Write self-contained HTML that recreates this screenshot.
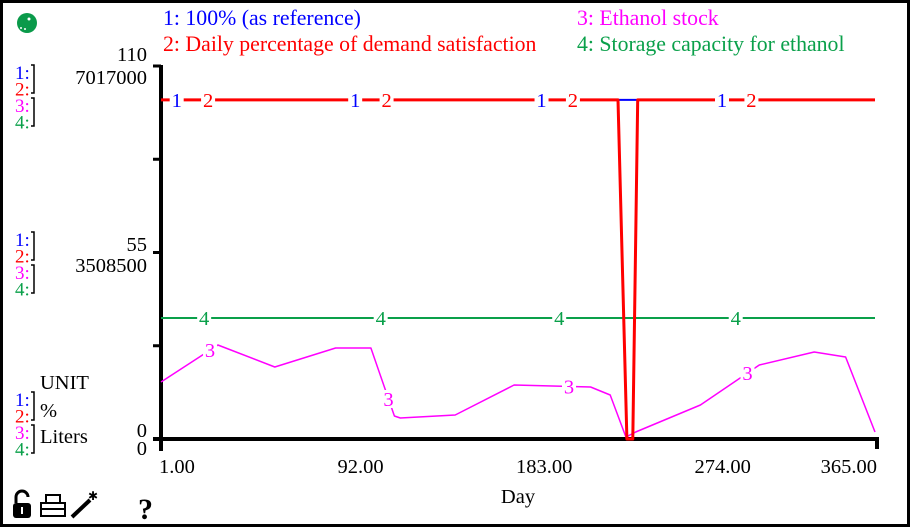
<!DOCTYPE html>
<html><head><meta charset="utf-8"><style>
body{margin:0;background:#fff;}
#wrap{position:relative;width:910px;height:527px;overflow:hidden;font-family:"Liberation Serif",serif;}
svg text{font-family:"Liberation Serif",serif;}
</style></head><body>
<div id="wrap">
<svg id="chart" width="910" height="527" xmlns="http://www.w3.org/2000/svg">
<rect x="1.5" y="1.5" width="907" height="524" fill="#fff" stroke="#000" stroke-width="3"/>
<g><circle cx="27" cy="23" r="10" fill="#0a9a4a"/><circle cx="29" cy="19" r="1.5" fill="#fff"/><circle cx="21" cy="28" r="1" fill="#fff"/><circle cx="25" cy="29" r="1" fill="#fff"/></g>
<text x="163" y="25" font-size="21.8" fill="#0000ff">1: 100% (as reference)</text>
<text x="163" y="51" font-size="21.8" fill="#ff0000">2: Daily percentage of demand satisfaction</text>
<text x="577" y="25" font-size="21.8" fill="#ff00ff">3: Ethanol stock</text>
<text x="577" y="51" font-size="21.8" fill="#0aa04a">4: Storage capacity for ethanol</text>
<g id="axes"></g>
<g id="series"></g>
<g>
<g><path d="M16 503 v-6 a6 6 0 0 1 12 0" fill="none" stroke="#000" stroke-width="3"/><rect x="13" y="503" width="18" height="15" rx="3" fill="#000"/><rect x="21" y="507" width="2" height="7" fill="#fff"/></g>
<g stroke="#000" stroke-width="2" fill="none"><rect x="41" y="503" width="24" height="13"/><rect x="46" y="495" width="14" height="8"/><line x1="41" y1="509" x2="65" y2="509"/></g>
<g><line x1="72" y1="517" x2="90" y2="500" stroke="#000" stroke-width="4"/><text x="88" y="500" font-size="12">✱</text></g>
<text x="138" y="519" font-size="30" font-weight="bold" font-family="Liberation Sans">?</text>
</g>
</svg>
</div>
<script>
const days3 = [1,30,59,90,108,120,123,151,181,220,230,238,243,276,306,334,350,365];
const stock = [1072000,1768000,1354000,1712000,1712000,433000,395000,451000,1016000,978000,828000,38000,132000,640000,1392000,1637000,1543000,132000];
const days2 = [1,234,238.5,241.5,244,365];
const demand = [100,100,0,0,100,100];
const days1 = [1,365];
const reference = [100,100];
const days4 = [1,365];
const capacity = [2276000,2276000];
const xTicks = [1,92,183,274,365];
const xTickLabels = ["1.00","92.00","183.00","274.00","365.00"];
const pctMax = 110, litMax = 7017000;

const X0=161,X1=875,Y0=439,Y1=66;
const xs = d => X0 + (d-1)/(365-1)*(X1-X0);
const yP = v => Y0 - v/pctMax*(Y0-Y1);
const yL = v => Y0 - v/litMax*(Y0-Y1);
const NS="http://www.w3.org/2000/svg";
function mk(tag,attrs,parent,txt){const e=document.createElementNS(NS,tag);for(const k in attrs)e.setAttribute(k,attrs[k]);if(txt!==undefined)e.textContent=txt;parent.appendChild(e);return e;}
const ax=document.getElementById('axes'), se=document.getElementById('series');
const FS=20.5;

let e=mk('line',{x1:X0,y1:Y1-1,x2:X0,y2:Y0+12,stroke:'#000','stroke-width':4},ax);


e=mk('line',{x1:X0-8,y1:Y0,x2:X1+4,y2:Y0,stroke:'#000','stroke-width':4},ax);


mk('line',{x1:X1+2,y1:Y0,x2:X1+2,y2:Y0+10,stroke:'#000','stroke-width':4},ax);
[0.25,0.5,0.75,1].forEach(f=>{const y=Y0-f*(Y0-Y1);mk('line',{x1:X0-8,y1:y,x2:X0,y2:y,stroke:'#000','stroke-width':3},ax);});
function lab(x,y,t,name,anchor){const el=mk('text',{x:x,y:y,'font-size':FS,'text-anchor':anchor||'end'},ax,t);

}
lab(147,61,"110",'y-tick-pct-max');lab(147,84,"7017000",'y-tick-liters-max');
lab(147,251,"55",'y-tick-pct-mid');lab(147,272,"3508500",'y-tick-liters-mid');
lab(147,437,"0",'y-tick-pct-zero');lab(147,455,"0",'y-tick-liters-zero');
xTicks.forEach((d,i)=>{const x=xs(d);const last=i===xTicks.length-1;const el=mk('text',{x:last?X1+2:x-2,y:473,'font-size':FS,'text-anchor':last?'end':'start'},ax,xTickLabels[i]);

});
e=mk('text',{x:518,y:503,'font-size':FS,'text-anchor':'middle'},ax,"Day");



const cols=['#0000ff','#ff0000','#ff00ff','#0aa04a'];
function key(y0,name){const g=mk('g',{},ax);
for(let i=0;i<4;i++){mk('text',{x:15,y:y0+i*16.5,'font-size':19,fill:cols[i]},g,(i+1)+":");}
mk('path',{d:`M31 ${y0-14}h3v28h-3 M31 ${y0+19}h3v28h-3`,stroke:'#000','stroke-width':1.5,fill:'none'},g);}
key(79,'scale-key-top');key(246,'scale-key-mid');key(406,'scale-key-units');
lab(40,389,"UNIT",'units-header','start');lab(40,417,"%",'unit-pct','start');lab(40,443,"Liters",'unit-liters','start');

function line(ds,vs,yf,color,w,name){const pts=ds.map((d,i)=>xs(d).toFixed(1)+','+yf(vs[i]).toFixed(1)).join(' ');
const p=mk('polyline',{points:pts,fill:'none',stroke:color,'stroke-width':w,'stroke-linejoin':'round'},se);

}
function interp(ds,vs,d){for(let i=0;i<ds.length-1;i++){if(d>=ds[i]&&d<=ds[i+1]){const t=(d-ds[i])/(ds[i+1]-ds[i]);return vs[i]+t*(vs[i+1]-vs[i]);}}return vs[vs.length-1];}
function marker(d,ds,vs,yf,color,t,name){const x=xs(d),y=yf(interp(ds,vs,d));
mk('rect',{x:x-7,y:y-9,width:14,height:18,fill:'#fff'},se);
const el=mk('text',{x:x,y:y+7,'font-size':FS,fill:color,'text-anchor':'middle'},se,t);

}

line(days4,capacity,yL,'#0aa04a',2,'series-4-storage-capacity');
line(days3,stock,yL,'#ff00ff',1.5,'series-3-ethanol-stock');
line(days1,reference,yP,'#0000ff',2,'series-1-reference');
line(days2,demand,yP,'#ff0000',3,'series-2-demand-satisfaction');
[23,113,204,294].forEach(d=>marker(d,days4,capacity,yL,'#0aa04a','4','series-4-marker'));
[26,117,209,300].forEach(d=>marker(d,days3,stock,yL,'#ff00ff','3','series-3-marker'));
[9,100,195,287].forEach(d=>marker(d,days1,reference,yP,'#0000ff','1','series-1-marker'));
[25,116,211,302].forEach(d=>marker(d,days2,demand,yP,'#ff0000','2','series-2-marker'));
</script>
</body></html>
